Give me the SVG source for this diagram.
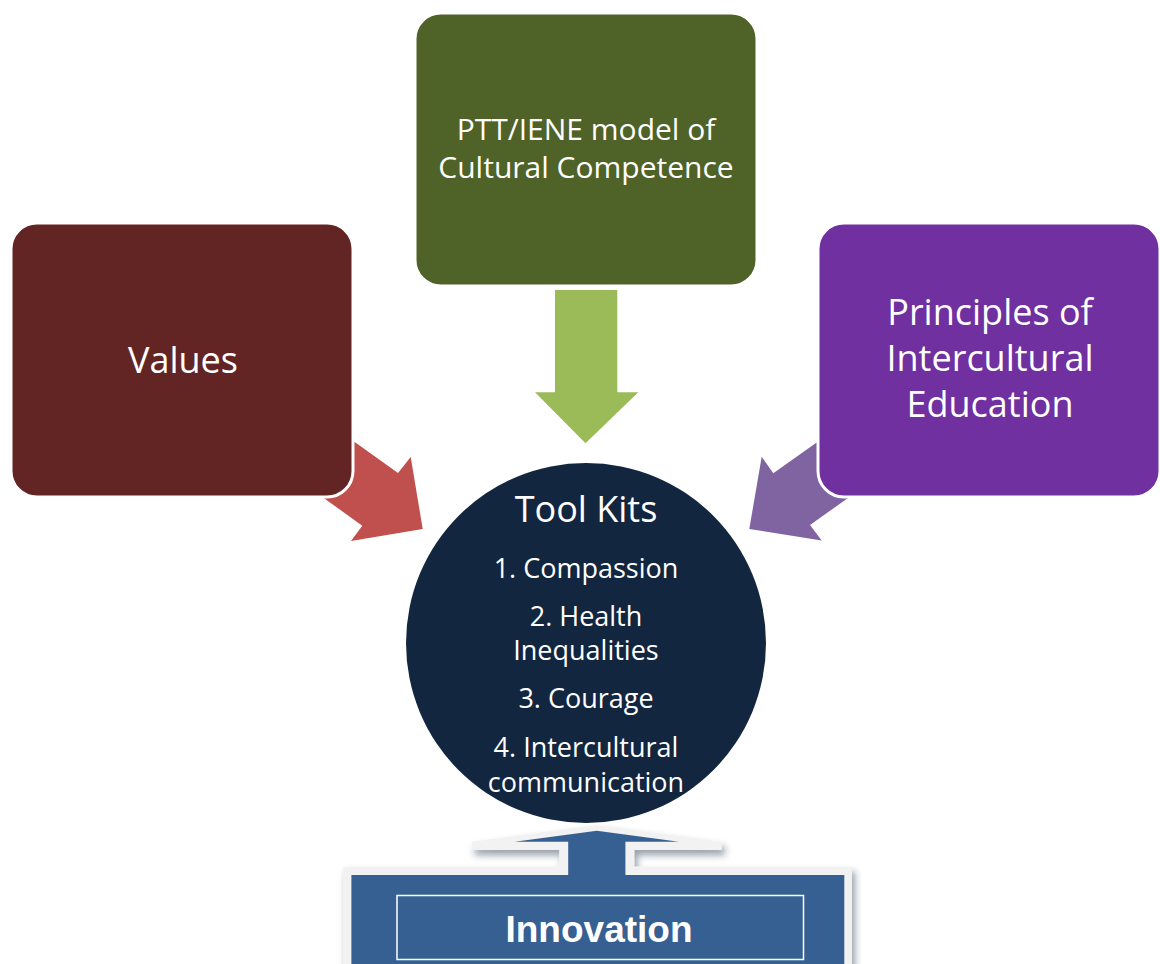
<svg xmlns="http://www.w3.org/2000/svg" width="1160" height="964" viewBox="0 0 1160 964">
  <defs>
    <filter id="shadow" x="-10%" y="-20%" width="130%" height="150%">
      <feDropShadow dx="3" dy="5" stdDeviation="3.5" flood-color="#1f2f45" flood-opacity="0.45"/>
    </filter>
  </defs>
  <style>
    .box { stroke: #ffffff; stroke-width: 3; }
    .lbl { font-family: "Open Sans", "Noto Sans", sans-serif; fill: #ffffff; text-anchor: middle; }
    .big { font-size: 36px; }
    .mid { font-size: 30px; }
    .sm { font-size: 27px; }
    .inno { font-family: "Liberation Sans", Arial, sans-serif; font-weight: bold; font-size: 37px; fill: #ffffff; text-anchor: middle; }
  </style>
  <rect width="1160" height="964" fill="#ffffff"/>

  <g id="connectors">
    <polygon id="arrow-values" fill="#c0504d" points="333,426.4 398,473 410.7,457 422.7,529 351,541 362.3,525.7 297.3,479"/>
    <polygon id="arrow-principles" fill="#8064a2" points="838.5,427 773.3,473.3 761.7,456.7 749.3,529 821.7,540.5 810,525 875.2,478.7"/>
    <polygon id="arrow-ptt" fill="#9bbb59" points="555,290 617.3,290 617.3,392.3 638.3,392.3 585.5,443.3 535,392.3 555,392.3"/>
  </g>

  <g id="node-values">
    <rect class="box" x="11" y="223" width="342" height="274" rx="26" fill="#632523"/>
    <text class="lbl big" x="183" y="373">Values</text>
  </g>

  <g id="node-ptt">
    <rect class="box" x="415" y="13" width="342" height="273" rx="26" fill="#4f6228"/>
    <text class="lbl mid" x="586" y="140">PTT/IENE model of</text>
    <text class="lbl mid" x="586" y="178">Cultural Competence</text>
  </g>

  <g id="node-principles">
    <rect class="box" x="818" y="223" width="342" height="274" rx="26" fill="#7030a0"/>
    <text class="lbl big" x="990" y="325">Principles of</text>
    <text class="lbl big" x="990" y="371">Intercultural</text>
    <text class="lbl big" x="990" y="417">Education</text>
  </g>

  <g id="node-toolkits">
    <circle cx="586" cy="643" r="180" fill="#12263f"/>
    <text class="lbl big" x="586" y="522">Tool Kits</text>
    <text class="lbl sm" x="586" y="578">1. Compassion</text>
    <text class="lbl sm" x="586" y="626">2. Health</text>
    <text class="lbl sm" x="586" y="660">Inequalities</text>
    <text class="lbl sm" x="586" y="708">3. Courage</text>
    <text class="lbl sm" x="586" y="757">4. Intercultural</text>
    <text class="lbl sm" x="586" y="792">communication</text>
  </g>

  <g id="node-innovation">
    <polygon filter="url(#shadow)" fill="#f2f2f2" points="596.8,825 471.8,841.7 471.8,850 559.3,850 559.3,866.7 343.2,866.7 343.2,970 852,970 852,866.7 634.3,866.7 634.3,850 721.8,850 721.8,841.7"/>
    <polygon fill="#376092" points="596.8,830.7 514.6,841.7 568.2,841.7 568.2,875 351.4,875 351.4,970 844.3,970 844.3,875 625.4,875 625.4,841.7 678.9,841.7"/>
    <rect x="397" y="895.5" width="406.5" height="64" fill="none" stroke="#ffffff" stroke-width="1.5"/>
    <text class="inno" x="599" y="941.5">Innovation</text>
  </g>
</svg>
